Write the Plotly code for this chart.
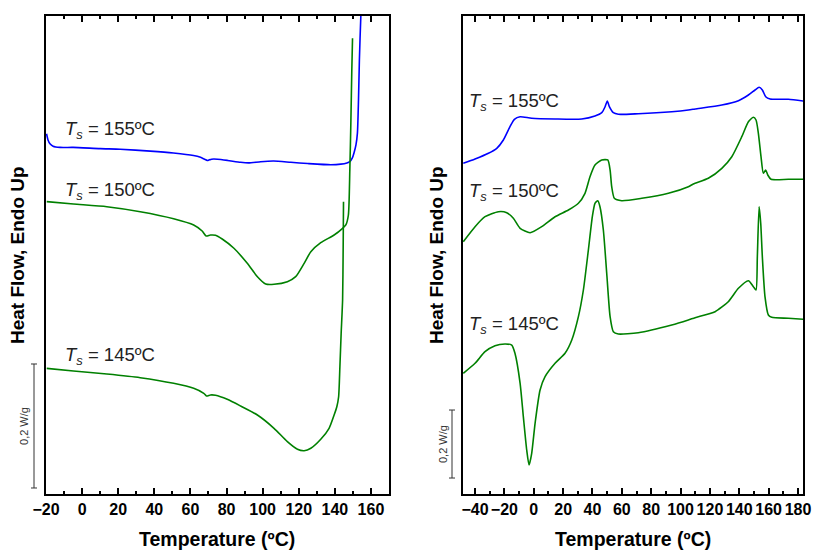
import plotly.graph_objects as go

# ---- Left panel: cooling scans from Ts (heat flow in W/g, arbitrary offsets) ----
t_cool_155 = [-19.7, -18.9, -17.8, -16.1, -12.2, -5.0, 10.0, 21.1, 37.8, 50.6, 61.7, 65.6, 67.8, 69.3,
              70.6, 71.7, 75.0, 80.6, 87.8, 92.2, 98.9, 106.1, 115.6, 125.0, 137.8, 143.3, 146.7, 148.3,
              149.7, 150.6, 151.7, 152.5, 153.1, 153.6, 154.4, 155.0]
hf_cool_155 = [0.581, 0.571, 0.565, 0.561, 0.559, 0.559, 0.557, 0.556, 0.553, 0.550, 0.546, 0.543, 0.540,
               0.538, 0.539, 0.540, 0.540, 0.538, 0.535, 0.534, 0.536, 0.537, 0.535, 0.533, 0.531, 0.532,
               0.534, 0.536, 0.542, 0.550, 0.563, 0.582, 0.635, 0.700, 0.771, 0.800]

t_cool_150 = [-19.6, -4.8, 13.7, 32.2, 50.7, 61.8, 66.5, 68.7, 71.1, 73.9, 77.6, 84.1, 91.5, 97.1, 101.7,
              106.3, 113.7, 118.3, 123.0, 126.7, 132.2, 139.6, 144.3, 146.1, 147.5, 148.3, 148.9, 149.4,
              149.8]
hf_cool_150 = [0.4715, 0.4677, 0.4634, 0.4553, 0.4440, 0.4339, 0.4242, 0.4161, 0.4177, 0.4173, 0.4113,
               0.3963, 0.3721, 0.3505, 0.3387, 0.3382, 0.3424, 0.3505, 0.3721, 0.3908, 0.4053, 0.4177,
               0.4285, 0.4339, 0.4500, 0.5226, 0.6032, 0.6839, 0.7350]

t_cool_145 = [-19.6, -4.8, 13.7, 32.2, 50.7, 61.8, 67.4, 68.9, 71.1, 73.9, 80.4, 87.8, 97.1, 106.3, 113.7,
              119.3, 123.0, 126.7, 132.2, 136.8, 139.6, 141.1, 142.1, 142.8, 143.5, 144.3, 144.6, 144.8]
hf_cool_145 = [0.2027, 0.1984, 0.1935, 0.1876, 0.1785, 0.1705, 0.1624, 0.1581, 0.1597, 0.1592, 0.1527,
               0.1419, 0.1274, 0.1060, 0.0844, 0.0721, 0.0698, 0.0737, 0.0882, 0.1060, 0.1274, 0.1408,
               0.1569, 0.2053, 0.2592, 0.3129, 0.3935, 0.4715]

# ---- Right panel: subsequent heating scans ----
t_heat_155 = [-48.0, -40.0, -30.9, -25.2, -20.7, -16.2, -13.2, -9.3, -1.4, 14.5, 32.7, 41.7, 46.3, 48.6,
              50.1, 51.5, 54.2, 57.6, 71.2, 94.0, 105.3, 109.9, 128.1, 139.4, 146.2, 150.7, 153.5, 155.7,
              158.0, 161.0, 173.4, 183.6]
hf_heat_155 = [0.9726, 0.9853, 1.0021, 1.0168, 1.0412, 1.0803, 1.1021, 1.1097, 1.1050, 1.1029, 1.1029,
               1.1118, 1.1215, 1.1391, 1.1559, 1.1391, 1.1215, 1.1168, 1.1185, 1.1244, 1.1294, 1.1324,
               1.1441, 1.1568, 1.1735, 1.1882, 1.1962, 1.1885, 1.1685, 1.1618, 1.1609, 1.1559]

t_heat_150 = [-48.0, -40.0, -33.2, -24.1, -18.4, -13.9, -9.3, -2.5, 5.4, 14.5, 23.6, 30.4, 34.9, 38.3,
              41.7, 46.3, 50.4, 52.0, 53.1, 54.9, 59.9, 73.6, 91.7, 105.3, 108.7, 118.9, 128.1, 134.9,
              141.7, 146.2, 149.6, 151.4, 153.0, 154.8, 156.4, 158.0, 159.4, 161.6, 173.4, 183.6]
hf_heat_150 = [0.7421, 0.7862, 0.8156, 0.8303, 0.8274, 0.8109, 0.7815, 0.7685, 0.7862, 0.8156, 0.8353,
               0.8550, 0.8844, 0.9332, 0.9676, 0.9824, 0.9824, 0.9529, 0.9038, 0.8697, 0.8626, 0.8697,
               0.8844, 0.9038, 0.9118, 0.9285, 0.9579, 0.9921, 1.0509, 1.0950, 1.1079, 1.1000, 1.0609,
               0.9921, 0.9432, 0.9529, 0.9382, 0.9256, 0.9256, 0.9256]

t_heat_145 = [-48.0, -40.0, -33.2, -26.4, -19.6, -15.0, -12.8, -9.3, -7.1, -4.8, -3.2, -1.4, 0.9, 4.3,
              7.7, 14.5, 21.3, 25.9, 30.4, 33.8, 37.2, 39.9, 41.7, 43.6, 45.1, 47.4, 49.7, 52.0, 54.2,
              57.6, 71.2, 94.0, 105.3, 109.9, 123.5, 132.5, 139.4, 146.2, 149.6, 151.4, 152.3, 153.5,
              154.6, 155.7, 157.5, 159.8, 162.1, 173.4, 183.6]
hf_heat_145 = [0.3550, 0.3844, 0.4185, 0.4362, 0.4412, 0.4382, 0.4138, 0.3256, 0.2274, 0.1294, 0.0853,
               0.1197, 0.2079, 0.3059, 0.3450, 0.3844, 0.4138, 0.4529, 0.5215, 0.6000, 0.7176, 0.8156,
               0.8550, 0.8626, 0.8450, 0.7765, 0.6491, 0.5215, 0.4774, 0.4706, 0.4744, 0.4971, 0.5118,
               0.5185, 0.5362, 0.5656, 0.6050, 0.6274, 0.6097, 0.6000, 0.6979, 0.8450, 0.7962, 0.6979,
               0.5803, 0.5265, 0.5197, 0.5168, 0.5138]

# Curve labels: (Ts text, x, y) in data units of each panel
labels_left = [("155", -10.6, 0.587), ("150", -10.6, 0.489), ("145", -10.6, 0.2226)]
labels_right = [("155", -45.4, 1.153), ("150", -45.4, 0.888), ("145", -45.4, 0.497)]

x_ticks_left = [-20, 0, 20, 40, 60, 80, 100, 120, 140, 160]
x_ticks_right = [-40, -20, 0, 20, 40, 60, 80, 100, 120, 140, 160, 180]

SCALE_BAR = 0.2  # W/g
scale_left_base = 0.0097
scale_right_base = 0.047

BLUE = "#0000ff"
GREEN = "#008000"
FONT = "Liberation Sans"

W, H = 821, 552
fig = go.Figure()


def add_curve(x, y, color, xa, ya):
    fig.add_trace(go.Scatter(x=x, y=y, mode="lines", xaxis=xa, yaxis=ya,
                             line=dict(color=color, width=1.6, shape="spline", smoothing=0.6),
                             hoverinfo="skip", showlegend=False))


add_curve(t_cool_155, hf_cool_155, BLUE, "x", "y")
add_curve(t_cool_150, hf_cool_150, GREEN, "x", "y")
add_curve(t_cool_145, hf_cool_145, GREEN, "x", "y")
add_curve(t_heat_155, hf_heat_155, BLUE, "x2", "y2")
add_curve(t_heat_150, hf_heat_150, GREEN, "x2", "y2")
add_curve(t_heat_145, hf_heat_145, GREEN, "x2", "y2")

ydom = [1 - 494 / H, 1 - 16 / H]
xdom_left = [46 / W, 389 / W]
xdom_right = [463 / W, 803 / W]

xaxis_common = dict(
    showline=True, linewidth=2, linecolor="black", mirror="ticks",
    ticks="inside", ticklen=6, tickwidth=2, tickcolor="black",
    minor=dict(ticks="inside", ticklen=3, tickwidth=2, tickcolor="black", dtick=10),
    showgrid=False, zeroline=False, tickmode="array", tickangle=0, automargin=False,
    tickfont=dict(family=FONT, size=16, color="black", weight="bold"),
)
yaxis_common = dict(showline=True, linewidth=2, linecolor="black", mirror=True, automargin=False,
                    ticks="", showticklabels=False, showgrid=False, zeroline=False,
                    domain=ydom)

fig.update_layout(
    width=W, height=H, margin=dict(l=0, r=0, t=0, b=0, autoexpand=False),
    paper_bgcolor="white", plot_bgcolor="white",
    xaxis=dict(domain=xdom_left, range=[-20, 170], tickvals=x_ticks_left, anchor="y", **xaxis_common),
    xaxis2=dict(domain=xdom_right, range=[-48.2, 183.4], tickvals=x_ticks_right, anchor="y2", **xaxis_common),
    yaxis=dict(range=[0, 478 / 620], anchor="x", **yaxis_common),
    yaxis2=dict(range=[0, 478 / 340], anchor="x2", **yaxis_common),
)

ann = []
for txt, x, y in labels_left:
    ann.append(dict(x=x, y=y, xref="x", yref="y", xanchor="left", yanchor="middle", showarrow=False,
                    text=f"<i>T</i><sub><i>s</i></sub> = {txt}ºC",
                    font=dict(family=FONT, size=18.5, color="#222222")))
for txt, x, y in labels_right:
    ann.append(dict(x=x, y=y, xref="x2", yref="y2", xanchor="left", yanchor="middle", showarrow=False,
                    text=f"<i>T</i><sub><i>s</i></sub> = {txt}ºC",
                    font=dict(family=FONT, size=18.5, color="#222222")))

# Axis titles
for xc in [(46 + 389) / 2 / W, (463 + 803) / 2 / W]:
    ann.append(dict(x=xc, y=1 - 539 / H, xref="paper", yref="paper", showarrow=False,
                    xanchor="center", yanchor="middle", text="Temperature (ºC)",
                    font=dict(family=FONT, size=19.5, color="black", weight="bold")))
for xc in [18 / W, 437 / W]:
    ann.append(dict(x=xc, y=1 - 255 / H, xref="paper", yref="paper", showarrow=False,
                    xanchor="center", yanchor="middle", textangle=-90, text="Heat Flow, Endo Up",
                    font=dict(family=FONT, size=19, color="black", weight="bold")))

# Scale bars
shapes = []
for xpx, yref, base, txt_x in [(34, "y", scale_left_base, 24), (452, "y2", scale_right_base, 443)]:
    xp = xpx / W
    cap = 3 / W
    shapes.append(dict(type="line", xref="paper", yref=yref, x0=xp, x1=xp, y0=base, y1=base + SCALE_BAR,
                       line=dict(color="#333333", width=1)))
    for yv in (base, base + SCALE_BAR):
        shapes.append(dict(type="line", xref="paper", yref=yref, x0=xp - cap, x1=xp + cap, y0=yv, y1=yv,
                           line=dict(color="#333333", width=1)))
    ann.append(dict(x=txt_x / W, y=base + SCALE_BAR / 2, xref="paper", yref=yref, showarrow=False,
                    xanchor="center", yanchor="middle", textangle=-90,
                    text=f"{SCALE_BAR:.1f}".replace(".", ",") + " W/g",
                    font=dict(family=FONT, size=11, color="#333333")))

fig.update_layout(annotations=ann, shapes=shapes)
fig.write_html("out.html")
